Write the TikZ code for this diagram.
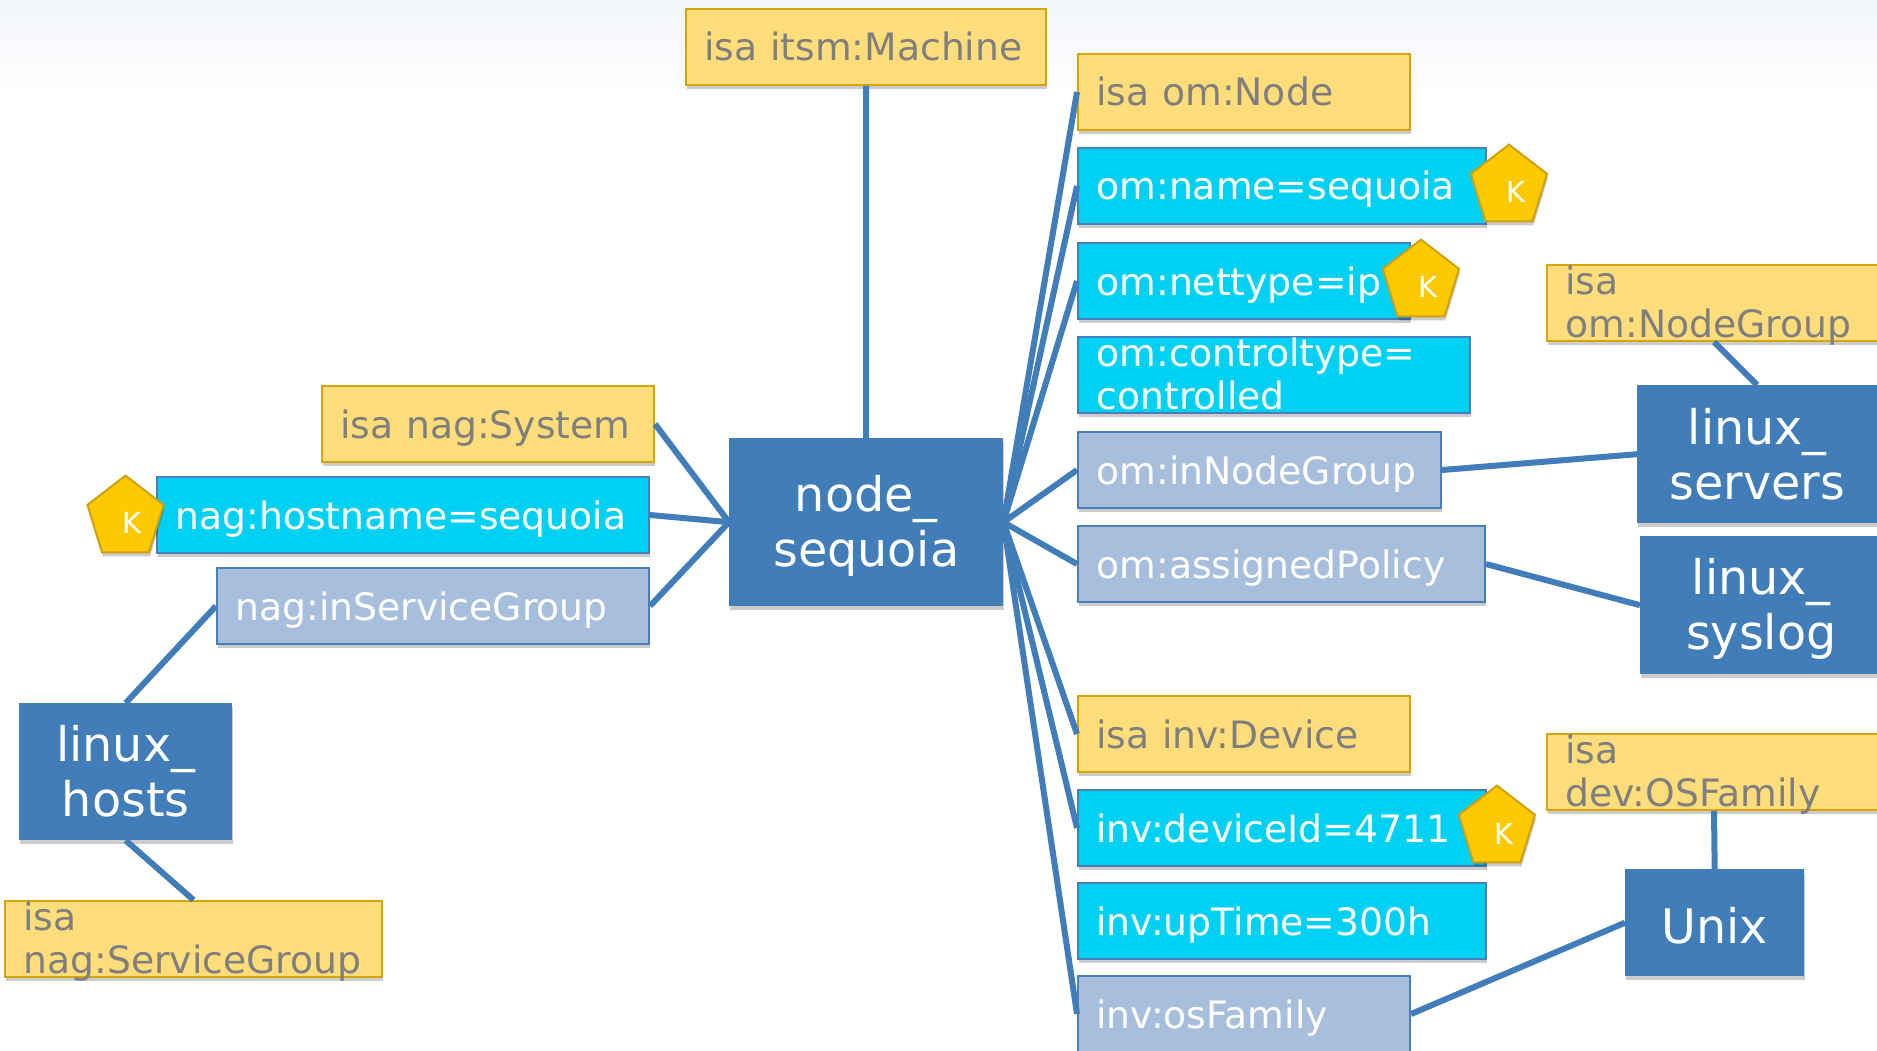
\documentclass[tikz,border=0pt]{standalone}
\usepackage{fontspec}
\setmainfont{DejaVu Sans}
\usetikzlibrary{shapes.geometric,shadows}
\definecolor{yfill}{HTML}{FFDD7A}
\definecolor{ydraw}{HTML}{D4A50E}
\definecolor{cfill}{HTML}{00D0F2}
\definecolor{pfill}{HTML}{A8BEDD}
\definecolor{bdraw}{HTML}{4A7EBB}
\definecolor{hub}{HTML}{417DB9}
\definecolor{gtext}{HTML}{7F7F7F}
\definecolor{kfill}{HTML}{FFC900}
\definecolor{kdraw}{HTML}{CFA010}
\definecolor{bgtop}{HTML}{F2F5FA}
\tikzset{
  softshadow/.style={drop shadow={shadow xshift=1pt,shadow yshift=-4pt,fill=black,opacity=.2}},
  attr/.style={anchor=north west,rectangle,line width=2pt,softshadow,inner xsep=18.5pt,inner ysep=0pt,
    minimum height=76pt,align=left,text height=28pt,text depth=0pt,
    font=\fontsize{37.7}{43}\selectfont},
  twolines/.style={text height=0pt,text depth=17pt},
  typebox/.style={attr,fill=yfill,draw=ydraw,text=gtext},
  valbox/.style={attr,fill=cfill,draw=bdraw,text=white},
  refbox/.style={attr,fill=pfill,draw=bdraw,text=white},
  hubbox/.style={anchor=north west,rectangle,fill=hub,softshadow,inner sep=0pt,align=center,text=white,
    font=\fontsize{47.6}{55}\selectfont},
  keyshape/.style={regular polygon,regular polygon sides=5,minimum size=80pt,inner sep=0pt,
    yscale=1.06,transform shape,fill=kfill,draw=kdraw,line width=2pt,softshadow},
  keytext/.style={text=white,inner sep=0pt,font=\fontsize{29}{30}\selectfont},
  link/.style={hub,line width=6pt}
}
\begin{document}
\begin{tikzpicture}[x=1pt,y=-1pt]
\useasboundingbox (0,0) rectangle (1877,1051);
\clip (0,0) rectangle (1877,1051);
\fill[top color=bgtop,bottom color=white] (0,0) rectangle (1877,95);

\node[hubbox,minimum width=274pt,minimum height=168pt] (seq) at (729,438) {\rule{0pt}{44pt}node\_\\sequoia};
\node[hubbox,minimum width=213pt,minimum height=137pt] (hosts) at (19,703) {linux\_\\hosts};
\node[hubbox,minimum width=240pt,minimum height=138pt] (servers) at (1637,385) {linux\_\\servers};
\node[hubbox,minimum width=242pt,minimum height=138pt] (syslog) at (1640,536) {\rule{0pt}{44pt}linux\_\\syslog};
\node[hubbox,minimum width=179pt,minimum height=107pt] (unix) at (1625,869) {\rule{0pt}{42pt}Unix};

\node[typebox,text width=323pt] (itsm) at (685,8) {isa itsm:Machine};
\node[typebox,text width=295pt] (omnode) at (1077,53) {isa om:Node};
\node[valbox,text width=371pt] (omname) at (1077,147) {om:name=sequoia};
\node[valbox,text width=295pt] (nettype) at (1077,242) {om:nettype=ip};
\node[valbox,twolines,text width=355pt] (ctrl) at (1077,336) {om:controltype=\\controlled};
\node[refbox,text width=326pt] (ingroup) at (1077,431) {om:inNodeGroup};
\node[refbox,text width=370pt] (policy) at (1077,525) {om:assignedPolicy};
\node[typebox,text width=295pt] (device) at (1077,695) {isa inv:Device};
\node[valbox,text width=371pt] (devid) at (1077,789) {inv:deviceId=4711};
\node[valbox,text width=371pt] (uptime) at (1077,882) {inv:upTime=300h};
\node[refbox,text width=295pt] (osfam) at (1077,975) {inv:osFamily};
\node[typebox,twolines,text width=297pt] (nodegroup) at (1546,264) {isa\\om:NodeGroup};
\node[typebox,twolines,text width=297pt] (osfamily) at (1546,733) {isa\\dev:OSFamily};
\node[typebox,text width=295pt] (system) at (321,385) {isa nag:System};
\node[valbox,text width=455pt] (hostname) at (156,476) {nag:hostname=sequoia};
\node[refbox,text width=395pt] (insvc) at (216,567) {nag:inServiceGroup};
\node[typebox,twolines,text width=340pt] (svcgroup) at (4,900) {isa\\nag:ServiceGroup};

\node[keyshape] (k1) at (1509,187) {};
\node[keyshape] (k2) at (1421,282) {};
\node[keyshape] (k3) at (1497,828) {};
\node[keyshape] (k4) at (125.5,518) {};
\node[keytext] (kt1) at (1516,192) {K};
\node[keytext] (kt2) at (1428,287) {K};
\node[keytext] (kt3) at (1504,834) {K};
\node[keytext] (kt4) at (132,523) {K};

\draw[link] (itsm.south) -- (seq.north);
\draw[link] (seq.east) -- (omnode.west);
\draw[link] (seq.east) -- (omname.west);
\draw[link] (seq.east) -- (nettype.west);
\draw[link] (seq.east) -- (ingroup.west);
\draw[link] (seq.east) -- (policy.west);
\draw[link] (seq.east) -- (device.west);
\draw[link] (seq.east) -- (devid.west);
\draw[link] (seq.east) -- (osfam.west);
\draw[link] (seq.west) -- (system.east);
\draw[link] (seq.west) -- (hostname.east);
\draw[link] (seq.west) -- (insvc.east);
\draw[link] (insvc.west) -- (hosts.north);
\draw[link] (hosts.south) -- (svcgroup.north);
\draw[link] (ingroup.east) -- (servers.west);
\draw[link] (policy.east) -- (syslog.west);
\draw[link] (servers.north) -- (nodegroup.south);
\draw[link] (osfamily.south) -- (unix.north);
\draw[link] (osfam.east) -- (unix.west);
\end{tikzpicture}
\end{document}
